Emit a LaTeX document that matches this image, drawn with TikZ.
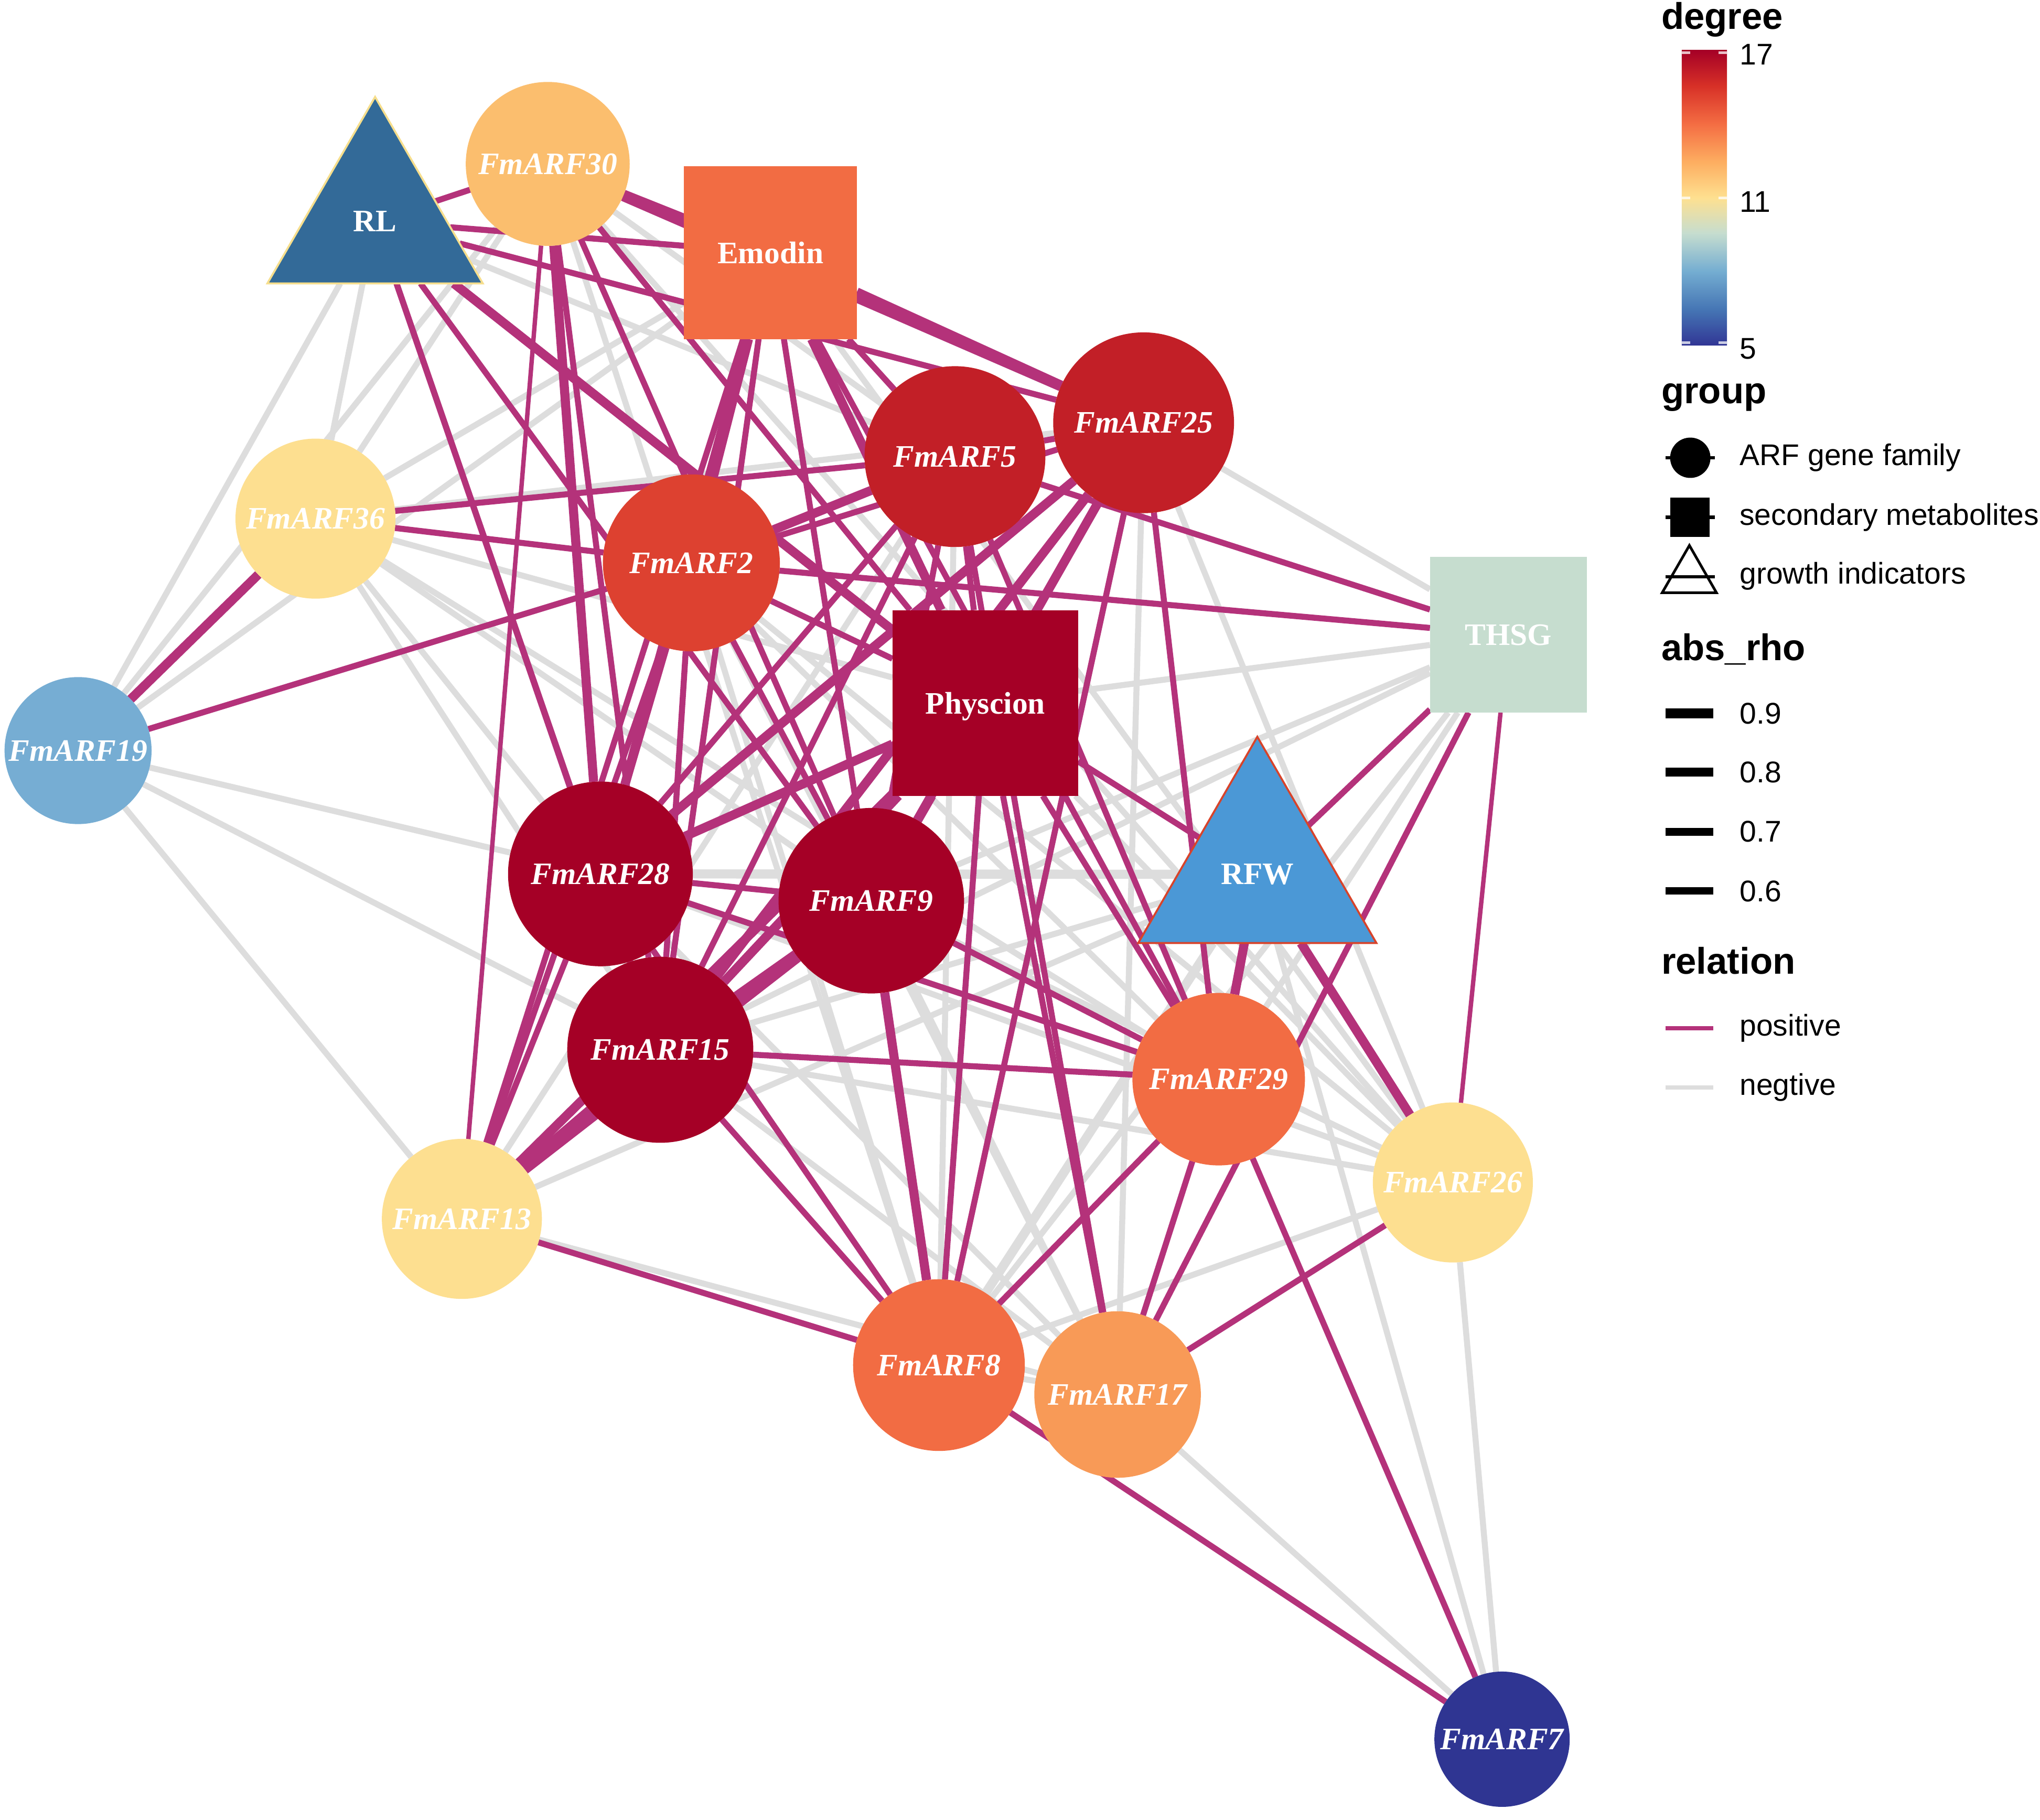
\documentclass[tikz,border=0pt]{standalone}
\usepackage{fontspec}
\setmainfont{Liberation Serif}
\newfontfamily\lsans{Liberation Sans}
\usetikzlibrary{shapes.geometric}
\pgfdeclarelayer{bg}
\pgfdeclarelayer{edges}
\pgfsetlayers{bg,edges,main}
\definecolor{mag}{RGB}{180,50,122}
\definecolor{gry}{RGB}{221,221,221}
\definecolor{cA}{HTML}{A50026}
\definecolor{cB}{HTML}{C21F27}
\definecolor{cC}{HTML}{DD4130}
\definecolor{cD}{HTML}{F26C43}
\definecolor{cE}{HTML}{F89A57}
\definecolor{cF}{HTML}{FBBE6E}
\definecolor{cG}{HTML}{FDDF90}
\definecolor{cH}{HTML}{C6DDCF}
\definecolor{cI}{HTML}{76ADD3}
\definecolor{cJ}{HTML}{4B98D6}
\definecolor{cK}{HTML}{336A98}
\definecolor{cL}{HTML}{2F3592}
\definecolor{rlb}{HTML}{F6DE8C}
\definecolor{rfwb}{HTML}{D8432A}
\definecolor{s0}{HTML}{313695}
\definecolor{s1}{HTML}{4575B4}
\definecolor{s2}{HTML}{74ADD1}
\definecolor{s3}{HTML}{C6DDCF}
\definecolor{s4}{HTML}{FEE090}
\definecolor{s5}{HTML}{FDAE61}
\definecolor{s6}{HTML}{F46D43}
\definecolor{s7}{HTML}{D73027}
\definecolor{s8}{HTML}{A50026}
% TikZ maps the path onto the middle part (25bp..75bp) of the shading
\pgfdeclareverticalshading{degbar}{100bp}{color(0bp)=(s0); color(25bp)=(s0); color(31bp)=(s1); color(37.5bp)=(s2); color(44bp)=(s3); color(50bp)=(s4); color(56bp)=(s5); color(62.5bp)=(s6); color(69bp)=(s7); color(75bp)=(s8); color(100bp)=(s8)}
\newcommand\arffont{\fontsize{24}{28}\selectfont\bfseries\itshape}
\newcommand\metfont{\fontsize{24}{28}\selectfont\bfseries}
\newcommand\legfont{\lsans\fontsize{23}{27}\selectfont}
\newcommand\legtitle{\lsans\fontsize{28.5}{33}\selectfont\bfseries}
\tikzset{
  arf/.style={circle, inner sep=0pt, outer sep=0pt, text=white, font=\arffont, text depth=0pt},
  met/.style={rectangle, inner sep=0pt, outer sep=0pt, text=white, font=\metfont, text depth=0pt},
  tri/.style={regular polygon, regular polygon sides=3, inner sep=0pt, outer sep=0pt, text=white, font=\metfont, line width=1.5pt, text depth=0pt},
  P/.style={draw=mag, line width=4.6pt},
  N/.style={draw=gry, line width=4.6pt},
  T/.style={line width=7pt},
  t/.style={line width=3.4pt},
  leg/.style={anchor=west, inner sep=0pt, font=\legfont},
  ltitle/.style={anchor=base west, inner sep=0pt, font=\legtitle},
}
\begin{document}
\begin{tikzpicture}[x=1pt,y=-1pt]
\useasboundingbox (0,0) rectangle (1568,1399);
\begin{pgfonlayer}{bg}
\fill[white] (0,0) rectangle (1568,1399);
\end{pgfonlayer}
% nodes
\node[tri, fill=cK, draw=rlb, minimum size=191.2pt] (RL) at (288.3,170.1) {\makebox[0pt]{RL}};
\node[arf, fill=cF, minimum size=126pt] (A30) at (421,126) {\makebox[0pt]{FmARF30}};
\node[met, fill=cD, minimum size=132.8pt] (EM) at (592.2,194.2) {\makebox[0pt]{Emodin}};
\node[arf, fill=cB, minimum size=139pt] (A5) at (734,351) {\makebox[0pt]{FmARF5}};
\node[arf, fill=cB, minimum size=139pt] (A25) at (879,325) {\makebox[0pt]{FmARF25}};
\node[arf, fill=cG, minimum size=123pt] (A36) at (242.5,398.7) {\makebox[0pt]{FmARF36}};
\node[arf, fill=cC, minimum size=136pt] (A2) at (531.4,432.7) {\makebox[0pt]{FmARF2}};
\node[met, fill=cH, minimum width=120.6pt, minimum height=119.5pt] (TH) at (1159.4,488) {\makebox[0pt]{THSG}};
\node[arf, fill=cI, minimum size=113pt] (A19) at (60,577) {\makebox[0pt]{FmARF19}};
\node[met, fill=cA, minimum size=142.7pt] (PH) at (757.3,540.4) {\makebox[0pt]{Physcion}};
\node[tri, fill=cJ, draw=rfwb, minimum size=211.4pt] (RFW) at (966.4,672.1) {\makebox[0pt]{RFW}};
\node[arf, fill=cA, minimum size=142pt] (A28) at (461.5,671.8) {\makebox[0pt]{FmARF28}};
\node[arf, fill=cA, minimum size=142.6pt] (A9) at (669.7,692.4) {\makebox[0pt]{FmARF9}};
\node[arf, fill=cA, minimum size=143pt] (A15) at (507.5,807) {\makebox[0pt]{FmARF15}};
\node[arf, fill=cD, minimum size=132.6pt] (A29) at (936.7,829.6) {\makebox[0pt]{FmARF29}};
\node[arf, fill=cG, minimum size=123pt] (A26) at (1116.7,909) {\makebox[0pt]{FmARF26}};
\node[arf, fill=cG, minimum size=123pt] (A13) at (355,937) {\makebox[0pt]{FmARF13}};
\node[arf, fill=cD, minimum size=132pt] (A8) at (721.7,1049.4) {\makebox[0pt]{FmARF8}};
\node[arf, fill=cE, minimum size=128pt] (A17) at (859,1072) {\makebox[0pt]{FmARF17}};
\node[arf, fill=cL, minimum size=104pt] (A7) at (1154.5,1337) {\makebox[0pt]{FmARF7}};
% edges
\begin{pgfonlayer}{edges}
% negative
\draw[N] (RL) -- (A19);
\draw[N] (RL) -- (A36);
\draw[N] (RL) -- (A5);
\draw[N] (A30) -- (A5);
\draw[N] (A30) -- (A19);
\draw[N] (A30) -- (A36);
\draw[N] (A30) -- (A26);
\draw[N] (A30) -- (A8);
\draw[N] (EM) -- (A36);
\draw[N] (EM) -- (A19);
\draw[N] (EM) -- (A26);
\draw[N] (A19) -- (A28);
\draw[N] (A19) -- (A15);
\draw[N] (A19) -- (A13);
\draw[N] (A36) -- (PH);
\draw[N] (A36) -- (A28);
\draw[N] (A36) -- (A15);
\draw[N] (A36) -- (A9);
\draw[N] (A36) -- (A29);
\draw[N] (A36) -- (A25);
\draw[N] (A13) -- (RFW);
\draw[N] (A13) -- (A17);
\draw[N] (A13) -- (A5);
\draw[N] (A8) -- (A2);
\draw[N] (A8) -- (A5);
\draw[N] (A8) -- (TH);
\draw[N,T] (A8) -- (RFW);
\draw[N] (A8) -- (A26);
\draw[N] (A8) -- (A17);
\draw[N] (A17) -- (A7);
\draw[N] (A17) -- (A15);
\draw[N] (A17) -- (A25);
\draw[N] (A17) -- (A9);
\draw[N] (A17) -- (A28);
\draw[N] (A17) -- (A2);
\draw[N] (A26) -- (A7);
\draw[N] (A26) -- (A25);
\draw[N] (A26) -- (PH);
\draw[N] (A26) -- (A28);
\draw[N] (A26) -- (A15);
\draw[N] (A26) -- (A9);
\draw[N] (A26) -- (A2);
\draw[N] (TH) -- (A29);
\draw[N] (RFW) -- (A7);
\draw[N,T] (RFW) -- (A28);
\draw[N] (A25) -- (TH);
\draw[N] (PH) -- (TH);
\draw[N] (A15) -- (TH);
\draw[N] (A9) -- (TH);
\draw[N] (A15) -- (RFW);
\draw[N] (A2) -- (A29);
% positive
\draw[P] (RL) -- (A30);
\draw[P] (RL) -- (EM);
\draw[P] (RL) -- (A25);
\draw[P,T] (RL) -- (PH);
\draw[P] (RL) -- (A28);
\draw[P] (RL) -- (A9);
\draw[P] (RL) -- (A15);
\draw[P,T] (A30) -- (EM);
\draw[P,T] (A30) -- (A25);
\draw[P,t] (A30) -- (A13);
\draw[P,T] (A30) -- (A28);
\draw[P] (A30) -- (A15);
\draw[P] (A30) -- (A9);
\draw[P] (A30) -- (PH);
\draw[P] (EM) -- (A13);
\draw[P,T] (EM) -- (A25);
\draw[P] (EM) -- (A5);
\draw[P,T] (EM) -- (A2);
\draw[P,T] (EM) -- (PH);
\draw[P,T] (EM) -- (A28);
\draw[P] (EM) -- (A9);
\draw[P] (EM) -- (A15);
\draw[P] (EM) -- (A29);
\draw[P,T] (A19) -- (A36);
\draw[P] (A19) -- (A2);
\draw[P] (A36) -- (A5);
\draw[P] (A36) -- (A2);
\draw[P] (A13) -- (A2);
\draw[P,T] (A13) -- (A15);
\draw[P,T] (A13) -- (A9);
\draw[P,T] (A13) -- (PH);
\draw[P] (A13) -- (A8);
\draw[P] (A13) -- (A28);
\draw[P] (A8) -- (A15);
\draw[P] (A8) -- (A28);
\draw[P,T] (A8) -- (A9);
\draw[P] (A8) -- (PH);
\draw[P] (A8) -- (A25);
\draw[P] (A8) -- (A29);
\draw[P] (A8) -- (A7);
\draw[P] (A17) -- (PH);
\draw[P] (A17) -- (A5);
\draw[P] (A17) -- (A29);
\draw[P] (A17) -- (TH);
\draw[P] (A17) -- (A26);
\draw[P,t] (TH) -- (A26);
\draw[P,T] (RFW) -- (A26);
\draw[P] (A29) -- (A7);
\draw[P,T] (RFW) -- (A29);
\draw[P] (PH) -- (A29);
\draw[P] (A15) -- (A29);
\draw[P] (A9) -- (A29);
\draw[P] (A28) -- (A29);
\draw[P] (A25) -- (A29);
\draw[P] (A5) -- (A29);
\draw[P] (RFW) -- (TH);
\draw[P] (PH) -- (RFW);
\draw[P] (A5) -- (TH);
\draw[P] (A2) -- (TH);
\draw[P] (A5) -- (A25);
\draw[P,T] (A5) -- (A2);
\draw[P] (A5) -- (PH);
\draw[P] (A5) -- (A28);
\draw[P] (A5) -- (A9);
\draw[P] (A5) -- (A15);
\draw[P] (A25) -- (A2);
\draw[P] (A25) -- (PH);
\draw[P,T] (A25) -- (A28);
\draw[P,T] (A25) -- (A9);
\draw[P,T] (A25) -- (A15);
\draw[P] (A2) -- (PH);
\draw[P] (A2) -- (A28);
\draw[P] (A2) -- (A9);
\draw[P] (A2) -- (A15);
\draw[P,T] (PH) -- (A28);
\draw[P,T] (PH) -- (A9);
\draw[P,T] (PH) -- (A15);
\draw[P] (A28) -- (A9);
\draw[P] (A28) -- (A15);
\draw[P,T] (A9) -- (A15);
\end{pgfonlayer}
% legend: degree
\node[ltitle] (tdeg) at (1276.8,22.5) {degree};
\node[shading=degbar, minimum width=34.7pt, minimum height=226.8pt, inner sep=0pt] (cbar) at (1310,152) {};
\foreach \yy in {40.5,152,263.5}{
  \draw[white, opacity=0.75, line width=2pt] (1292.6,\yy) -- (1299,\yy);
  \draw[white, opacity=0.75, line width=2pt] (1321,\yy) -- (1327.3,\yy);
}
\node[leg] (l17) at (1337,42) {17};
\node[leg] (l11) at (1337,155) {11};
\node[leg] (l5) at (1337,268) {5};
% legend: group
\node[ltitle] (tgrp) at (1276.8,310) {group};
\node[circle, fill=black, minimum width=31pt, minimum height=29pt, inner sep=0pt] (kcirc) at (1299.2,351.9) {};
\draw[line width=2.5pt] (1280,351.9) -- (1318,351.9);
\node[leg] (lcirc) at (1337,351.9) {ARF gene family};
\node[rectangle, fill=black, minimum width=30pt, minimum height=30pt, inner sep=0pt] (ksq) at (1299,397.6) {};
\draw[line width=2.5pt] (1280,397.6) -- (1318,397.6);
\node[leg] (lsq) at (1337,397.6) {secondary metabolites};
\draw[line width=2pt, line join=miter] (1298.5,419.3) -- (1277.6,455.6) -- (1319.3,455.6) -- cycle;
\draw[line width=2.5pt] (1280,443.4) -- (1318,443.4);
\node[leg] (ltri) at (1337,443) {growth indicators};
% legend: abs_rho
\node[ltitle] (trho) at (1276.8,507.7) {abs\_rho};
\draw[line width=7.5pt] (1280,548.4) -- (1317,548.4);
\node[leg] (r9) at (1337,548.4) {0.9};
\draw[line width=6.8pt] (1280,593.7) -- (1317,593.7);
\node[leg] (r8) at (1337,593.7) {0.8};
\draw[line width=6.2pt] (1280,639.4) -- (1317,639.4);
\node[leg] (r7) at (1337,639.4) {0.7};
\draw[line width=5.6pt] (1280,685) -- (1317,685);
\node[leg] (r6) at (1337,685) {0.6};
% legend: relation
\node[ltitle] (trel) at (1276.8,748.7) {relation};
\draw[mag, line width=3.5pt] (1280,790.4) -- (1317,790.4);
\node[leg] (lpos) at (1337,790.4) {positive};
\draw[gry, line width=3.5pt] (1280,836) -- (1317,836);
\node[leg] (lneg) at (1337,836) {negtive};
\end{tikzpicture}
\end{document}
